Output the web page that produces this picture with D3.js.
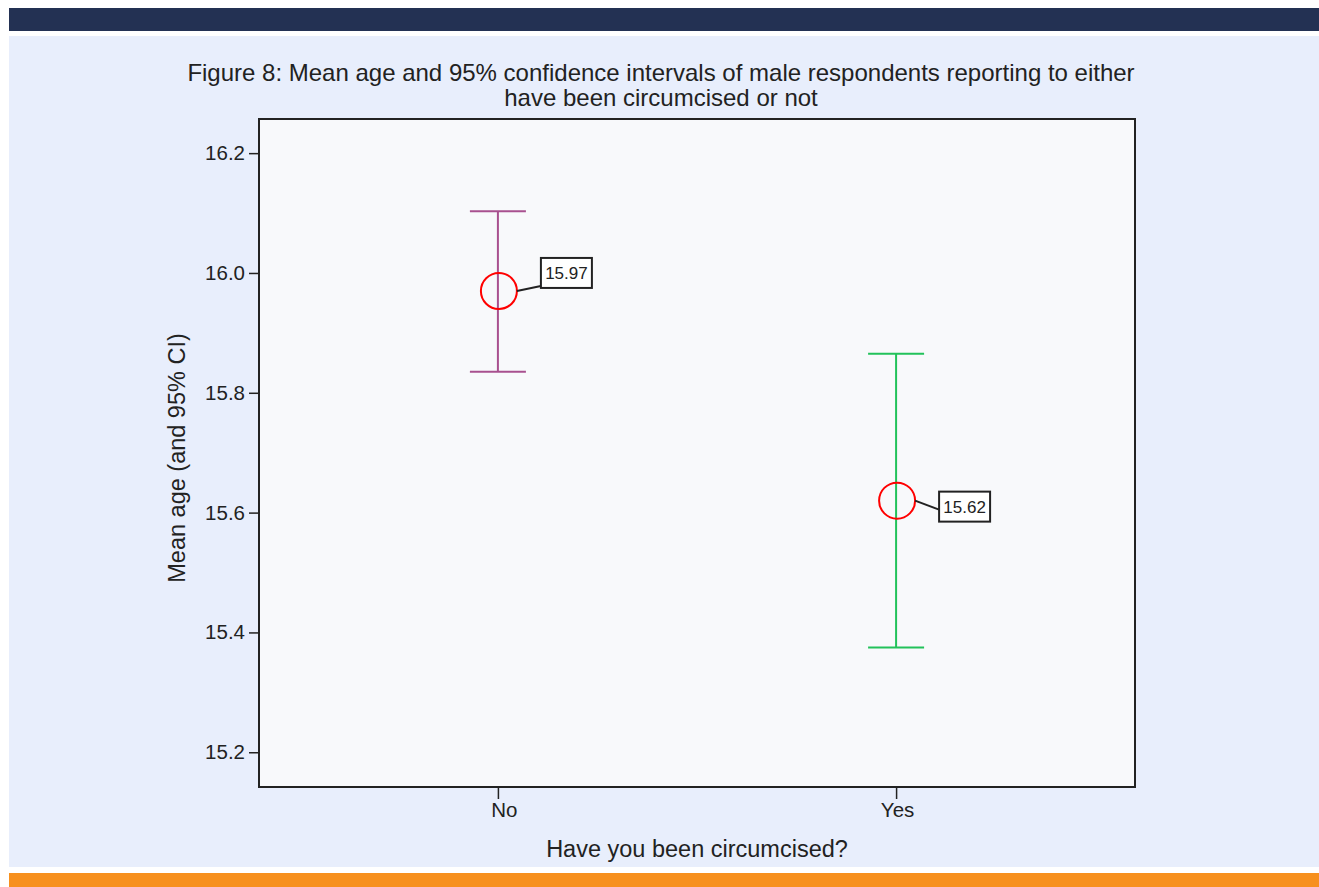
<!DOCTYPE html>
<html>
<head>
<meta charset="utf-8">
<script src="https://cdn.jsdelivr.net/npm/d3@7"></script>
<style>
html,body{margin:0;padding:0;background:#ffffff;}
svg{display:block;}
text{font-family:"Liberation Sans",Arial,Helvetica,sans-serif;fill:#222;}
</style>
</head>
<body>
<svg id="chart" width="1319" height="887"></svg>
<script>
// Data
const categories = ["No", "Yes"];
const means = [15.97, 15.62];
const lowerCI = [15.835, 15.375];
const upperCI = [16.103, 15.865];
const meanLabels = ["15.97", "15.62"];
const yTicks = [15.2, 15.4, 15.6, 15.8, 16.0, 16.2];
const seriesColors = ["#a8508f", "#22c25a"];
const titleLines = ["Figure 8: Mean age and 95% confidence intervals of male respondents reporting to either", "have been circumcised or not"];

const svg = d3.select("#chart");

// Background bands
svg.append("rect").attr("x", 9).attr("y", 8).attr("width", 1310).attr("height", 23).attr("fill", "#233153");
svg.append("rect").attr("x", 9).attr("y", 36).attr("width", 1310).attr("height", 831).attr("fill", "#e8eefc");
svg.append("rect").attr("x", 9).attr("y", 873).attr("width", 1310).attr("height", 14).attr("fill", "#f7901e");

const plot = {left: 259, top: 119, right: 1135, bottom: 787};

const x = d3.scalePoint().domain(categories).range([plot.left, plot.right]).padding(0.6);
const y = d3.scaleLinear().domain([15.142, 16.257]).range([plot.bottom, plot.top]);

// Plot area
svg.append("rect").attr("x", plot.left).attr("y", plot.top)
  .attr("width", plot.right - plot.left).attr("height", plot.bottom - plot.top)
  .attr("fill", "#f8f9fb").attr("stroke", "#222").attr("stroke-width", 2);

// Axes
const yAxis = d3.axisLeft(y).tickValues(yTicks).tickFormat(d3.format(".1f")).tickSize(10).tickPadding(4);
const gy = svg.append("g").attr("transform", `translate(${plot.left},0)`).call(yAxis);
gy.select(".domain").remove();
gy.selectAll(".tick line").attr("stroke", "#222").attr("stroke-width", 1.5);
gy.selectAll(".tick text").style("font-size", "20.5px").attr("fill", "#222");

const xAxis = d3.axisBottom(x).tickSize(12).tickPadding(3);
const gx = svg.append("g").attr("transform", `translate(0,${plot.bottom})`).call(xAxis);
gx.select(".domain").remove();
gx.selectAll(".tick line").attr("stroke", "#222").attr("stroke-width", 1.5);
gx.selectAll(".tick text").style("font-size", "20.5px").attr("fill", "#222")
  .attr("dx", (d, i) => i === 0 ? 6 : 1);

// Error bars
const capHalf = 28;
const g = svg.append("g");
categories.forEach((c, i) => {
  const cx = x(c);
  const col = seriesColors[i];
  g.append("line").attr("x1", cx).attr("x2", cx).attr("y1", y(upperCI[i])).attr("y2", y(lowerCI[i]))
    .attr("stroke", col).attr("stroke-width", 2);
  g.append("line").attr("x1", cx - capHalf).attr("x2", cx + capHalf).attr("y1", y(upperCI[i])).attr("y2", y(upperCI[i]))
    .attr("stroke", col).attr("stroke-width", 2);
  g.append("line").attr("x1", cx - capHalf).attr("x2", cx + capHalf).attr("y1", y(lowerCI[i])).attr("y2", y(lowerCI[i]))
    .attr("stroke", col).attr("stroke-width", 2);
  const cy = y(means[i]);
  const r = 18;
  g.append("circle").attr("cx", cx + 1).attr("cy", cy).attr("r", r)
    .attr("fill", "none").attr("stroke", "#ff0000").attr("stroke-width", 2);
  // Label box
  const bx = cx + 43, bw = 51, bh = 30;
  const by = i === 0 ? cy - 33 : cy - 9;
  const ly = i === 0 ? by + 28 : by + 18;
  g.append("line").attr("x1", cx + 1 + r).attr("y1", cy).attr("x2", bx).attr("y2", ly)
    .attr("stroke", "#222").attr("stroke-width", 2);
  g.append("rect").attr("x", bx).attr("y", by).attr("width", bw).attr("height", bh)
    .attr("fill", "#ffffff").attr("stroke", "#222").attr("stroke-width", 2);
  g.append("text").attr("x", bx + bw / 2).attr("y", by + bh / 2 + 1).attr("text-anchor", "middle")
    .attr("dominant-baseline", "central").style("font-size", "17px").text(meanLabels[i]);
});

// Titles
svg.append("g").selectAll("text").data(titleLines).join("text")
  .attr("x", 661).attr("y", (d, i) => 81 + i * 25).attr("text-anchor", "middle")
  .style("font-size", "24px").text(d => d);

svg.append("text").attr("x", (plot.left + plot.right) / 2).attr("y", 857).attr("text-anchor", "middle")
  .style("font-size", "23.5px").text("Have you been circumcised?");

svg.append("text").attr("transform", `translate(185,458) rotate(-90)`)
  .attr("text-anchor", "middle").style("font-size", "23.5px").text("Mean age (and 95% CI)");
</script>
</body>
</html>
